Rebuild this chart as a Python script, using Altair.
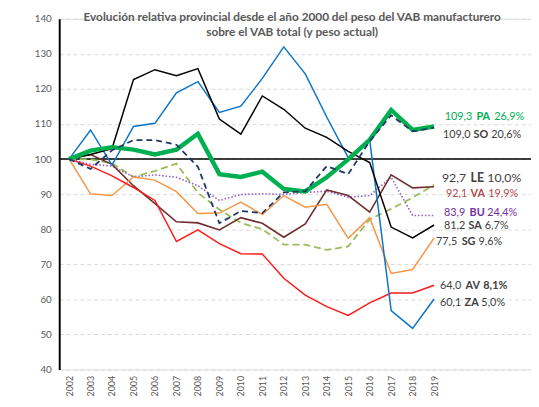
import altair as alt
import pandas as pd

years = list(range(2002, 2020))

PA = [100, 102.4, 103.4, 102.7, 101.3, 102.7, 107.2, 95.7, 94.9, 96.4, 91.5, 90.8, 94.8, 99.9, 105.5, 114.0, 108.3, 109.3]
SO = [100, 97.2, 102.5, 105.4, 105.4, 104.1, 97.8, 81.7, 85.2, 84.6, 90.5, 90.8, 98.0, 95.7, 105.1, 112.5, 107.9, 109.0]
SA = [100, 101.3, 103.0, 122.7, 125.5, 123.8, 125.8, 111.4, 107.1, 118.0, 114.2, 108.8, 106.2, 102.2, 99.0, 80.6, 77.5, 81.2]
ZA = [100, 108.3, 98.3, 109.3, 110.2, 118.9, 122.1, 113.3, 115.1, 123.0, 132.0, 124.3, 112.0, 100.4, 105.5, 56.8, 51.7, 60.1]
AV = [100, 98.0, 95.2, 91.9, 88.2, 76.5, 79.8, 75.9, 73.0, 72.9, 66.0, 61.2, 57.9, 55.4, 59.0, 61.8, 61.8, 64.0]
SG = [100, 90.1, 89.6, 94.9, 94.0, 90.7, 84.5, 84.6, 87.7, 84.2, 89.6, 86.3, 87.1, 77.4, 83.3, 67.4, 68.5, 77.5]
VA = [100, 101.3, 98.5, 92.4, 87.3, 82.1, 81.8, 79.8, 83.3, 81.7, 77.7, 81.5, 91.2, 89.6, 84.9, 95.5, 91.8, 92.1]
BU = [100, 98.5, 98.0, 94.9, 95.5, 94.8, 92.4, 88.2, 89.9, 90.1, 89.9, 90.5, 90.8, 89.1, 89.6, 94.8, 83.9, 83.9]
LE = [100, 99.9, 98.8, 94.9, 96.6, 98.7, 90.4, 85.6, 81.8, 80.0, 75.6, 75.6, 74.1, 75.1, 82.8, 85.8, 89.0, 92.7]

# label texts
codes = ["PA", "SO", "LE", "VA", "BU", "SA", "SG", "AV", "ZA"]
last_txt = ["109,3", "109,0", "92,7", "92,1", "83,9", "81,2", "77,5", "64,0", "60,1"]
shares = ["26,9%", "20,6%", "10,0%", "19,9%", "24,4%", "6,7%", "9,6%", "8,1%", "5,0%"]

series = {"PA": PA, "SO": SO, "SA": SA, "ZA": ZA, "AV": AV, "SG": SG, "VA": VA, "BU": BU, "LE": LE}

# styles
line_style = {
    "LE": dict(color="#9BBB59", strokeWidth=1.8, strokeDash=[7, 4]),
    "BU": dict(color="#8E5CC4", strokeWidth=1.6, strokeDash=[1.5, 2]),
    "VA": dict(color="#6E2E2E", strokeWidth=1.6),
    "SG": dict(color="#F79646", strokeWidth=1.5),
    "AV": dict(color="#FF1A1A", strokeWidth=1.5),
    "ZA": dict(color="#0A74C8", strokeWidth=1.5),
    "SA": dict(color="#000000", strokeWidth=1.5),
    "PA": dict(color="#00B050", strokeWidth=4.5),
    "SO": dict(color="#1F3864", strokeWidth=1.8, strokeDash=[6, 4]),
}
draw_order = ["LE", "BU", "VA", "SG", "AV", "ZA", "SA", "PA", "SO"]

label_color = ["#00B050", "#404040", "#404040", "#B24A4A", "#7030A0", "#404040", "#404040", "#404040", "#404040"]
label_size = [11, 11, 12.5, 11, 11, 11, 11, 11, 11]
# layout of the right-hand labels (vertical anchor in axis units, pixel offsets from the 2019 point)
label_anchor = [112.1, 106.8, 94.6, 90.1, 84.5, 80.8, 76.3, 63.9, 58.9]
dx_val = [10.7, 9, 8, 12, 10, 10, 2, 6, 6]
dx_code = [43, 40, 37, 37, 36, 35, 28, 32, 31]
dx_pct = [61, 58, 54, 55, 54, 51.5, 45, 50, 48]
pct_bold = [False, False, False, False, False, False, False, True, False]

W, H = 479, 356
X0 = 2001.541
PX = 21.8
X1 = X0 + W / PX

rows = []
for c, vals in series.items():
    for yr, v in zip(years, vals):
        rows.append({"code": c, "year": yr, "value": v})
df = pd.DataFrame(rows)

lab = pd.DataFrame({
    "code": codes, "txt": last_txt, "pct": shares, "anchor": label_anchor,
    "xv": [2019 + d / PX for d in dx_val],
    "xc": [2019 + d / PX for d in dx_code],
    "xp": [2019 + d / PX for d in dx_pct],
    "col": label_color, "fs": label_size, "bold": pct_bold,
})

xscale = alt.Scale(domain=[X0, X1], nice=False, zero=False)
yscale = alt.Scale(domain=[40, 140], nice=False, zero=False)
xaxis = alt.Axis(values=years, format="d", labelAngle=270, grid=False, domain=False, ticks=False,
                 labelFont="Lato", labelFontSize=9, labelColor="#595959", labelPadding=6, title=None)
yaxis = alt.Axis(values=list(range(40, 141, 10)), grid=True, gridDash=[4, 3], gridColor="#D9D9D9",
                 domainColor="#000000", domainWidth=2, ticks=False, labelPadding=8, labelFont="Lato",
                 labelFontSize=10, labelColor="#595959", title=None)

base_rule = alt.Chart(pd.DataFrame({"year": [X0, X1], "value": [100, 100]})).mark_line(
    color="#000000", strokeWidth=1.5, clip=True
).encode(x=alt.X("year:Q", scale=xscale, axis=xaxis), y=alt.Y("value:Q", scale=yscale, axis=yaxis))

layers = [base_rule]
for c in draw_order:
    layers.append(
        alt.Chart(df[df.code == c]).mark_line(**line_style[c]).encode(
            x=alt.X("year:Q", scale=xscale, axis=xaxis),
            y=alt.Y("value:Q", scale=yscale, axis=yaxis),
        )
    )

txt_common = dict(align="left", baseline="middle", font="Lato")
enc_common = dict(
    y=alt.Y("anchor:Q", scale=yscale, axis=yaxis),
    color=alt.Color("col:N", scale=None),
    size=alt.Size("fs:Q", scale=None),
)
layers.append(alt.Chart(lab).mark_text(**txt_common).encode(
    x=alt.X("xv:Q", scale=xscale, axis=xaxis), text="txt:N", **enc_common))
layers.append(alt.Chart(lab).mark_text(fontWeight="bold", **txt_common).encode(
    x=alt.X("xc:Q", scale=xscale, axis=xaxis), text="code:N", **enc_common))
layers.append(alt.Chart(lab).transform_filter("!datum.bold").mark_text(**txt_common).encode(
    x=alt.X("xp:Q", scale=xscale, axis=xaxis), text="pct:N", **enc_common))
layers.append(alt.Chart(lab).transform_filter("datum.bold").mark_text(fontWeight="bold", **txt_common).encode(
    x=alt.X("xp:Q", scale=xscale, axis=xaxis), text="pct:N", **enc_common))

chart = alt.layer(*layers).properties(
    width=W, height=H,
    autosize=alt.AutoSizeParams(type="none"),
    padding={"left": 52, "top": 8, "right": 0, "bottom": 27},
    title=alt.TitleParams(
        text=["Evolución relativa provincial desde el año 2000 del peso del VAB manufacturero",
              "sobre el VAB total (y peso actual)"],
        font="Lato", fontSize=12, fontWeight="bold", color="#595959",
        anchor="middle", dx=-3, offset=-25, lineHeight=15,
    ),
).configure_view(stroke=None).configure(background="#FFFFFF")

chart.save("out.html", embed_options={"renderer": "svg", "actions": False})
